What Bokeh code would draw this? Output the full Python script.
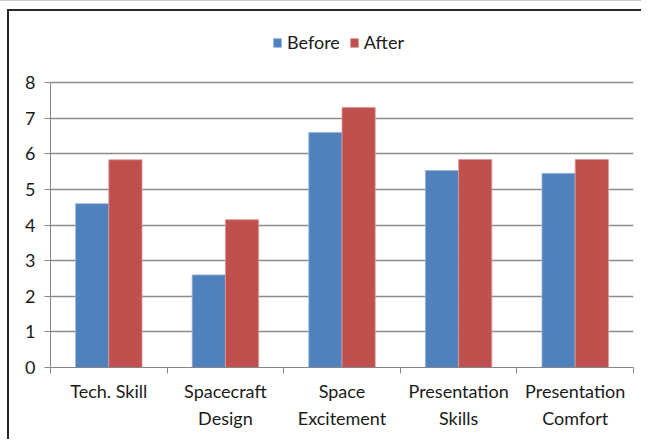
import numpy as np
from bokeh.plotting import figure
from bokeh.models import Range1d, FixedTicker, Legend, LegendItem, ColumnDataSource
from bokeh.embed import file_html
from bokeh.resources import INLINE

categories = ["Tech. Skill", "Spacecraft\nDesign", "Space\nExcitement", "Presentation\nSkills", "Presentation\nComfort"]
before = [4.6, 2.6, 6.6, 5.53, 5.45]
after = [5.83, 4.15, 7.3, 5.84, 5.84]
y_ticks = [0, 1, 2, 3, 4, 5, 6, 7, 8]

FONT = "Lato"
n = len(categories)
centers = list(np.arange(n) + 0.5)
bounds = list(np.arange(n + 1))
bw = 0.285

# layout (pixels): frame top extended to leave room for the legend
W, H = 641, 439
left, right, top, axis_y, ytop_px = 50, 8, 10, 367, 82
y_end = y_ticks[-1] * (axis_y - top) / (axis_y - ytop_px)

p = figure(width=W, height=H, output_backend="svg", toolbar_location=None,
           x_range=Range1d(0, n), y_range=Range1d(0, y_end),
           min_border_left=left, min_border_right=right, min_border_top=top,
           min_border_bottom=H - axis_y)
p.outline_line_color = None
p.background_fill_color = None
p.border_fill_color = None
p.styles = {"box-shadow": "inset 0 1px 0 0 #c8c8c8, inset 7px 9px 0 0 white, inset 9px 11px 0 0 #262626",
            "background-color": "white"}

src = ColumnDataSource(dict(xb=[c - bw / 2 for c in centers], xa=[c + bw / 2 for c in centers],
                            before=before, after=after))
rb = p.vbar(x="xb", top="before", width=bw, bottom=0, source=src,
            fill_color="#4F81BD", line_color="#9DB7DA", line_width=0.8)
ra = p.vbar(x="xa", top="after", width=bw, bottom=0, source=src,
            fill_color="#C0504D", line_color="#DC9A98", line_width=0.8)

# x axis
xa = p.xaxis[0]
xa.ticker = FixedTicker(ticks=centers, minor_ticks=bounds)
xa.major_label_overrides = {c: lab for c, lab in zip(centers, categories)}
xa.major_tick_out = 0
xa.major_tick_in = 0
xa.minor_tick_out = 6
xa.minor_tick_in = 0
xa.minor_tick_line_color = "#868686"
xa.axis_line_color = "#868686"
xa.major_label_standoff = 6
xa.major_label_text_font = FONT
xa.major_label_text_font_size = "18px"
xa.major_label_text_color = "#1a1a1a"
xa.major_label_text_line_height = 1.25

# y axis
ya = p.yaxis[0]
ya.ticker = FixedTicker(ticks=y_ticks)
ya.bounds = (y_ticks[0], y_ticks[-1])
ya.major_tick_out = 6
ya.major_tick_in = 0
ya.minor_tick_line_color = None
ya.major_tick_line_color = "#868686"
ya.axis_line_color = "#868686"
ya.major_label_standoff = 9
ya.major_label_text_font = FONT
ya.major_label_text_font_size = "18px"
ya.major_label_text_color = "#1a1a1a"

p.xgrid.grid_line_color = None
p.ygrid.ticker = FixedTicker(ticks=y_ticks)
p.ygrid.grid_line_color = "#8c8c8c"
p.ygrid.grid_line_width = 1.3

legend = Legend(items=[LegendItem(label="Before", renderers=[rb]), LegendItem(label="After", renderers=[ra])],
                orientation="horizontal", location=(222, 314),
                glyph_width=10, glyph_height=11, label_standoff=5, spacing=9,
                padding=0, margin=0, border_line_alpha=0, background_fill_alpha=0,
                label_text_font=FONT, label_text_font_size="18px", label_text_color="#1a1a1a")
p.add_layout(legend, "center")

open("out.html", "w").write(file_html(p, INLINE))
